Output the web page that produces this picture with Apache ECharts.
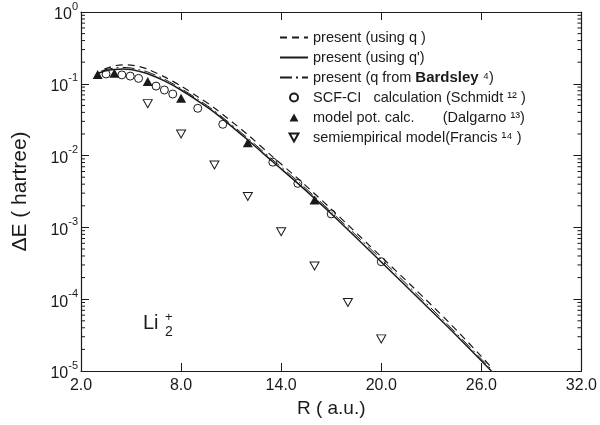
<!DOCTYPE html>
<html>
<head>
<meta charset="utf-8">
<script src="https://cdn.jsdelivr.net/npm/echarts@6/dist/echarts.min.js"></script>
<style>
html,body{margin:0;padding:0;background:#fff;}
#chart{width:600px;height:425px;}
</style>
</head>
<body>
<div id="chart"></div>
<script>
// ---- data ----
// present (using q) : dashed
const rQ  = [3.4, 4.0, 4.5, 5.0, 5.5, 6.0, 7.0, 8.0, 9.0, 10.0, 12.0, 13.5, 15.0, 17.0, 20.0, 22.0, 24.0, 26.0, 26.7];
const eQ  = [0.160, 0.178, 0.184, 0.182, 0.174, 0.160, 0.125, 0.093, 0.066, 0.046, 0.0195, 0.0096, 0.0048, 0.0018, 0.00039, 0.00014, 4.9e-5, 1.6e-5, 1.05e-5];
// present (using q') : solid
const rQp = [3.0, 3.5, 4.0, 4.5, 5.0, 5.5, 6.0, 7.0, 8.0, 9.0, 10.0, 12.0, 13.5, 15.0, 17.0, 20.0, 22.0, 24.0, 26.6];
const eQp = [0.140, 0.152, 0.158, 0.161, 0.158, 0.149, 0.138, 0.110, 0.082, 0.058, 0.040, 0.0165, 0.0082, 0.0041, 0.00155, 0.00033, 0.000116, 4.1e-5, 1.0e-5];
// present (q from Bardsley) : dash-dot
const rB  = [3.2, 3.5, 4.0, 4.5, 5.0, 5.5, 6.0, 7.0, 8.0, 9.0, 10.0, 12.0, 13.5, 15.0, 17.0, 20.0, 22.0, 24.0, 26.7];
const eB  = [0.150, 0.158, 0.166, 0.169, 0.166, 0.157, 0.146, 0.116, 0.086, 0.061, 0.042, 0.0175, 0.0087, 0.0044, 0.00165, 0.00036, 0.000126, 4.4e-5, 1.0e-5];
// SCF-CI calculation (Schmidt)
const rS  = [3.5, 4.45, 4.95, 5.45, 6.5, 7.0, 7.5, 9.0, 10.5, 13.5, 15.0, 17.0, 20.0];
const eS  = [0.137, 0.133, 0.128, 0.119, 0.093, 0.082, 0.072, 0.0456, 0.0273, 0.0081, 0.0041, 0.00154, 0.000333];
// model pot. calc. (Dalgarno)
const rD  = [3.0, 4.0, 6.0, 8.0, 12.0, 16.0];
const eD  = [0.135, 0.140, 0.108, 0.063, 0.0151, 0.0024];
// semiempirical model (Francis)
const rF  = [6.0, 8.0, 10.0, 12.0, 14.0, 16.0, 18.0, 20.0];
const eF  = [0.053, 0.020, 0.0074, 0.0027, 0.00087, 0.00029, 9.0e-5, 2.8e-5];
// axis ticks
const xMin = 2, xMax = 32, xStep = 6;
const yMin = 1e-5, yMax = 1;
const minorTickValues = [];
for (let n = -5; n <= -1; n++) for (let k = 2; k <= 9; k++) minorTickValues.push(k * Math.pow(10, n));

const names = [
  'present (using q )',
  "present (using q')",
  'present (q from {b|Bardsley} ⁴)',
  'SCF-CI   calculation (Schmidt ¹² )',
  'model pot. calc.       (Dalgarno ¹³)',
  'semiempirical model(Francis ¹⁴ )'
];

const zip = (a, b) => a.map((v, i) => [v, b[i]]);
const FONT = 'Liberation Sans';
const INK = '#1a1a1a';

const chart = echarts.init(document.getElementById('chart'));

const xAxisBase = {
  type: 'value', min: xMin, max: xMax, interval: xStep,
  axisLine: {show: true, lineStyle: {color: INK, width: 1.2}},
  axisTick: {show: true, inside: true, length: 8, lineStyle: {color: INK}},
  splitLine: {show: false}
};
const yAxisBase = {
  type: 'log', logBase: 10, min: yMin, max: yMax, interval: 1,
  axisLine: {show: true, lineStyle: {color: INK, width: 1.2}},
  axisTick: {show: true, inside: true, length: 8, lineStyle: {color: INK}},
  minorTick: {show: false},
  splitLine: {show: false}
};

chart.setOption({
  animation: false,
  backgroundColor: '#fff',
  textStyle: {fontFamily: FONT},
  grid: {left: 81, right: 18, top: 12, bottom: 54},
  xAxis: [
    Object.assign({}, xAxisBase, {
      position: 'bottom',
      name: 'R ( a.u.)', nameLocation: 'middle', nameGap: 28,
      nameTextStyle: {fontSize: 19, color: INK, fontFamily: FONT},
      axisLabel: {show: true, margin: 7, fontSize: 16, color: INK, fontFamily: FONT,
        formatter: v => v.toFixed(1)}
    }),
    Object.assign({}, xAxisBase, {position: 'top', axisLabel: {show: false}})
  ],
  yAxis: [
    Object.assign({}, yAxisBase, {
      position: 'left',
      name: 'ΔE ( hartree)', nameLocation: 'middle', nameGap: 50, nameRotate: 90,
      nameTextStyle: {fontSize: 21, color: INK, fontFamily: FONT},
      axisLabel: {show: true, margin: 3, color: INK, fontFamily: FONT,
        formatter: v => '{a|10}{e|' + Math.round(Math.log10(v)) + '}',
        rich: {
          a: {fontSize: 16, color: INK, fontFamily: FONT, lineHeight: 22, verticalAlign: 'bottom'},
          e: {fontSize: 11, color: INK, fontFamily: FONT, verticalAlign: 'top', lineHeight: 12}
        }}
    }),
    Object.assign({}, yAxisBase, {position: 'right', axisLabel: {show: false}})
  ],
  legend: {
    orient: 'vertical', left: 274, top: 25,
    itemWidth: 28, itemHeight: 8, itemGap: 5,
    symbolKeepAspect: true,
    selectedMode: false,
    textStyle: {fontSize: 14.5, lineHeight: 14, color: INK, fontFamily: FONT,
      rich: {b: {fontSize: 15, lineHeight: 14, fontWeight: 'bold', color: INK, fontFamily: FONT}}},
    data: [
      {name: names[0], itemStyle: {opacity: 0}},
      {name: names[1], itemStyle: {opacity: 0}},
      {name: names[2], itemStyle: {opacity: 0}},
      {name: names[3]},
      {name: names[4]},
      {name: names[5]}
    ]
  },
  graphic: [
    {type: 'text', left: 143, top: 313, style: {text: 'Li', fontSize: 20, fill: INK, fontFamily: FONT}},
    {type: 'text', left: 165, top: 311, style: {text: '+', fontSize: 13, fill: INK, fontFamily: FONT}},
    {type: 'text', left: 165, top: 325, style: {text: '2', fontSize: 14, fill: INK, fontFamily: FONT}}
  ],
  series: [
    {name: names[0], type: 'line', data: zip(rQ, eQ), smooth: 0.3, symbol: 'none',
      lineStyle: {color: INK, width: 1.2, type: [7, 5]}, itemStyle: {color: INK}},
    {name: names[1], type: 'line', data: zip(rQp, eQp), smooth: 0.3, symbol: 'none',
      lineStyle: {color: INK, width: 1.5, type: 'solid'}, itemStyle: {color: INK}},
    {name: names[2], type: 'line', data: zip(rB, eB), smooth: 0.3, symbol: 'none',
      lineStyle: {color: INK, width: 1.0, type: [12, 4, 2, 4]}, itemStyle: {color: INK}},
    {name: names[3], type: 'scatter', data: zip(rS, eS), symbol: 'circle', symbolSize: 8,
      itemStyle: {color: '#fff', borderColor: INK, borderWidth: 1, opacity: 1}},
    {name: names[4], type: 'scatter', data: zip(rD, eD), symbol: 'path://M5,0 L10,9 L0,9 Z', symbolSize: [10, 9],
      itemStyle: {color: INK, opacity: 1}},
    {name: names[5], type: 'scatter', data: zip(rF, eF), symbol: 'path://M0,0 L10,0 L5,9 Z', symbolSize: [9, 8],
      itemStyle: {color: '#fff', borderColor: INK, borderWidth: 1, opacity: 1}},
    {name: 'minorTicks', type: 'custom', silent: true, z: 1,
      data: minorTickValues.map(v => [xMin, v]),
      renderItem: function (params, api) {
        const p = api.coord([xMin, api.value(1)]);
        const cs = params.coordSys;
        const L = 4;
        return {type: 'group', children: [
          {type: 'line', shape: {x1: cs.x, y1: p[1], x2: cs.x + L, y2: p[1]}, style: {stroke: INK, lineWidth: 1}},
          {type: 'line', shape: {x1: cs.x + cs.width, y1: p[1], x2: cs.x + cs.width - L, y2: p[1]}, style: {stroke: INK, lineWidth: 1}}
        ]};
      }}
  ]
});
</script>
</body>
</html>
